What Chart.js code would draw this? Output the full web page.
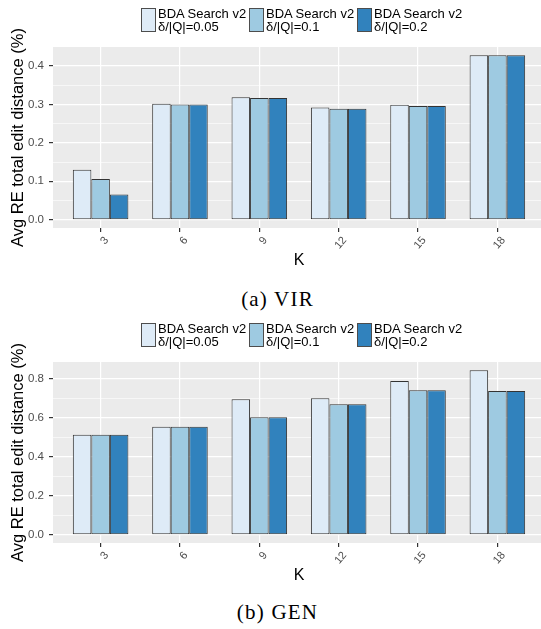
<!DOCTYPE html>
<html>
<head>
<meta charset="utf-8">
<script src="https://cdn.jsdelivr.net/npm/chart.js@4"></script>
<style>
  html, body { margin: 0; padding: 0; background: #fff; }
  body { width: 541px; height: 629px; overflow: hidden; position: relative;
         font-family: "Liberation Sans", Arial, sans-serif; }
  .panel { position: absolute; left: 0; width: 545px; height: 275px; }
  .panel canvas { position: absolute; left: 0; top: 0; }
  .key { position: absolute; top: 8px; width: 13px; height: 22px; border: 1px solid #4d4d4d; }
  .lab { position: absolute; top: 7px; font-size: 13px; line-height: 13px; color: #000; white-space: nowrap; }
  .caption { position: absolute; left: 0; width: 555px; text-align: center; line-height: 20px;
             font-family: "Liberation Serif", serif; font-size: 21px; letter-spacing: 1.2px; color: #000; }
</style>
</head>
<body>

<div class="panel" id="vir-panel" style="top:0px"><canvas id="vir" width="545" height="275"></canvas></div>
<div class="caption" style="top:289px">(a) VIR</div>

<div class="panel" id="gen-panel" style="top:315px"><canvas id="gen" width="545" height="275"></canvas></div>
<div class="caption" style="top:602px">(b) GEN</div>

<script>
// DATA
const kValues = [3, 6, 9, 12, 15, 18];
const seriesLines = [
  ["BDA Search v2", "δ/|Q|=0.05"],
  ["BDA Search v2", "δ/|Q|=0.1"],
  ["BDA Search v2", "δ/|Q|=0.2"],
];
const seriesColors = ["#deebf7", "#9ecae1", "#3182bd"];

// (a) VIR
const vir005 = [0.130, 0.302, 0.319, 0.292, 0.299, 0.428];
const vir01 = [0.106, 0.300, 0.317, 0.289, 0.296, 0.428];
const vir02 = [0.066, 0.300, 0.317, 0.289, 0.296, 0.428];
const virMajorTicks = [0, 0.1, 0.2, 0.3, 0.4];
const virMinorTicks = [0.05, 0.15, 0.25, 0.35, 0.45];

// (b) GEN
const gen005 = [0.512, 0.554, 0.694, 0.699, 0.788, 0.843];
const gen01 = [0.512, 0.554, 0.602, 0.669, 0.740, 0.737];
const gen02 = [0.512, 0.554, 0.602, 0.669, 0.740, 0.737];
const genMajorTicks = [0, 0.2, 0.4, 0.6, 0.8];
const genMinorTicks = [0.1, 0.3, 0.5, 0.7];

const FONT = "'Liberation Sans', Arial, sans-serif";

// grey ggplot panel behind the grid
const panelBg = {
  id: "panelBg",
  beforeDraw(chart) {
    const { ctx, chartArea: a } = chart;
    ctx.save();
    ctx.fillStyle = "#ebebeb";
    ctx.fillRect(a.left, a.top, a.right - a.left, a.bottom - a.top);
    ctx.restore();
  },
};

// LEGEND (html, one per chart)
function buildLegend(panelId) {
  const panel = document.getElementById(panelId);
  const keyLeft = [141, 249, 357];
  seriesLines.forEach((lines, i) => {
    const key = document.createElement("div");
    key.className = "key";
    key.style.left = keyLeft[i] + "px";
    key.style.background = seriesColors[i];
    panel.appendChild(key);

    const lab = document.createElement("div");
    lab.className = "lab";
    lab.style.left = keyLeft[i] + 17 + "px";
    lab.innerHTML = lines.join("<br>");
    panel.appendChild(lab);
  });
}

function isIn(list, v) {
  return list.some((t) => Math.abs(t - v) < 1e-9);
}

// CHART
function makeChart(canvasId, series, majorTicks, minorTicks, yMin, yMax) {
  const datasets = series.map((vals, i) => ({
    label: seriesLines[i].join(" "),
    data: kValues.map((k, j) => ({ x: k, y: vals[j] })),
    backgroundColor: seriesColors[i],
    borderColor: "#333333",
    borderWidth: 1,
    borderSkipped: false,
    categoryPercentage: 0.7,
    barPercentage: 1.0,
  }));

  new Chart(document.getElementById(canvasId), {
    type: "bar",
    data: { datasets },
    options: {
      responsive: false,
      animation: false,
      layout: { padding: { top: 47, left: 0, right: 0, bottom: 0 } },
      plugins: { legend: { display: false }, tooltip: { enabled: false } },
      scales: {
        x: {
          type: "linear",
          min: 1.2,
          max: 19.8,
          offset: false,
          afterBuildTicks: (s) => {
            s.ticks = kValues.map((v) => ({ value: v }));
          },
          afterFit: (s) => {
            s.height = 47;
          },
          grid: {
            offset: false,
            color: "#ffffff",
            lineWidth: 1.2,
            tickColor: "#333333",
            tickLength: 4,
          },
          border: { display: false },
          ticks: {
            autoSkip: false,
            minRotation: 50,
            maxRotation: 50,
            padding: 2,
            labelOffset: 6,
            color: "#4d4d4d",
            font: { family: FONT, size: 11 },
            callback: (v) => String(v),
          },
          title: {
            display: true,
            text: "K",
            color: "#000",
            font: { family: FONT, size: 16 },
            padding: { top: 0, bottom: 5 },
          },
        },
        y: {
          min: yMin,
          max: yMax,
          afterBuildTicks: (s) => {
            s.ticks = majorTicks
              .concat(minorTicks)
              .sort((a, b) => a - b)
              .map((v) => ({ value: v }));
          },
          afterFit: (s) => {
            s.width = 53;
          },
          grid: {
            color: "#ffffff",
            lineWidth: (c) => (c.tick && isIn(minorTicks, c.tick.value) ? 0.6 : 1.2),
            tickColor: (c) => (c.tick && isIn(minorTicks, c.tick.value) ? "rgba(0,0,0,0)" : "#333333"),
            tickLength: 4,
          },
          border: { display: false },
          ticks: {
            padding: 5,
            color: "#4d4d4d",
            font: { family: FONT, size: 11.5 },
            callback: (v) => (isIn(majorTicks, v) ? v.toFixed(1) : ""),
          },
          title: {
            display: true,
            text: "Avg RE total edit distance (%)",
            color: "#000",
            font: { family: FONT, size: 16.5 },
            padding: { top: 9, bottom: 0 },
          },
        },
      },
    },
    plugins: [panelBg],
  });
}

// INIT
buildLegend("vir-panel");
buildLegend("gen-panel");
makeChart("vir", [vir005, vir01, vir02], virMajorTicks, virMinorTicks, -0.0214, 0.4494);
makeChart("gen", [gen005, gen01, gen02], genMajorTicks, genMinorTicks, -0.042, 0.885);
</script>
</body>
</html>
